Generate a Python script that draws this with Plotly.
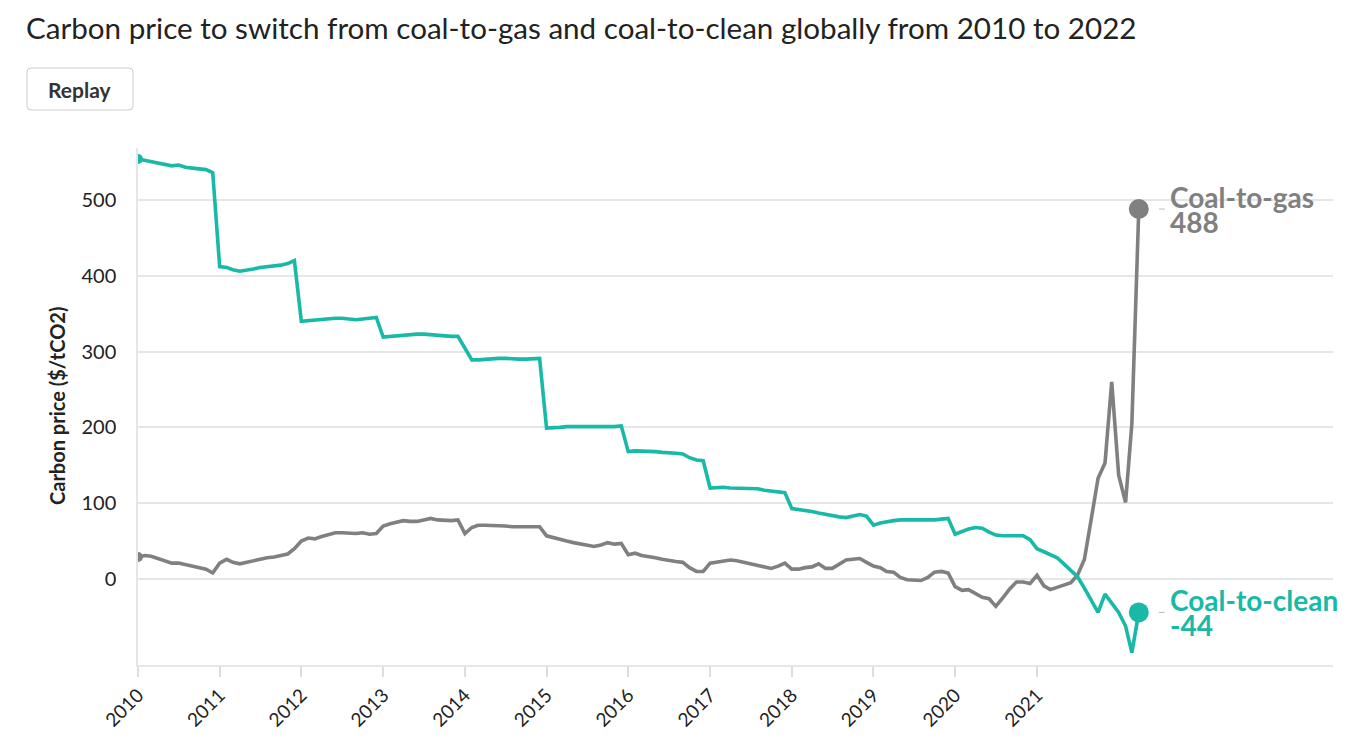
import pandas as pd
import plotly.graph_objects as go

# ---------------- data ----------------
months = pd.date_range("2010-01-01", "2022-04-01", freq="MS")

coal_to_clean = [
    554, 552, 551, 549, 546, 545, 546, 543, 542, 541, 540, 536,   # 2010
    412, 411, 408, 406, 407, 409, 411, 412, 412, 414, 416, 420,   # 2011
    340, 341, 341, 342, 343, 344, 344, 343, 342, 343, 344, 345,   # 2012
    319, 320, 321, 322, 323, 323, 323, 322, 321, 321, 320, 320,   # 2013
    305, 289, 289, 290, 290, 291, 291, 290, 290, 290, 290, 291,   # 2014
    199, 199, 200, 201, 201, 200, 200, 200, 201, 201, 201, 202,   # 2015
    168, 169, 169, 168, 168, 167, 167, 166, 165, 160, 157, 156,   # 2016
    120, 121, 121, 120, 120, 119, 119, 119, 117, 116, 115, 114,   # 2017
    93, 92, 91, 89, 87, 85, 84, 82, 81, 83, 85, 83,               # 2018
    71, 74, 76, 77, 78, 78, 77, 77, 77, 78, 79, 80,               # 2019
    59, 63, 66, 68, 67, 62, 58, 57, 57, 57, 57, 52,               # 2020
    40, 36, 32, 28, 20, 12, 3, -12, -29, -44, -20, -31,           # 2021
    -44, -62, -97, -44,                                           # 2022
]

coal_to_gas = [
    29, 31, 30, 27, 23, 21, 21, 19, 17, 15, 13, 8,                # 2010
    21, 26, 22, 20, 22, 24, 26, 28, 29, 31, 33, 40,               # 2011
    50, 54, 53, 56, 59, 61, 61, 60, 60, 61, 59, 60,               # 2012
    70, 73, 75, 77, 76, 76, 78, 80, 78, 77, 77, 78,               # 2013
    60, 68, 71, 71, 71, 71, 70, 69, 69, 68, 68, 69,               # 2014
    57, 55, 52, 50, 48, 46, 44, 43, 45, 48, 46, 47,               # 2015
    32, 34, 31, 30, 28, 26, 24, 23, 22, 15, 10, 10,               # 2016
    21, 22, 24, 25, 24, 22, 20, 18, 16, 14, 17, 21,               # 2017
    13, 13, 15, 16, 20, 14, 14, 19, 25, 26, 27, 22,               # 2018
    17, 15, 10, 9, 2, -1, -2, -2, 2, 9, 10, 8,                    # 2019
    -10, -15, -14, -19, -24, -26, -36, -25, -13, -4, -4, -6,      # 2020
    5, -9, -14, -11, -8, -5, 5, 26, 80, 133, 153, 260,            # 2021
    137, 101, 205, 488,                                           # 2022
]

series_names = ["Coal-to-gas", "Coal-to-clean"]
y_ticks = [0, 100, 200, 300, 400, 500]
x_ticks = [f"{y}-01-01" for y in range(2010, 2022)]
x_tick_labels = [str(y) for y in range(2010, 2022)]

title_text = "Carbon price to switch from coal-to-gas and coal-to-clean globally from 2010 to 2022"
y_title = "Carbon price ($/tCO2)"

# ---------------- styling ----------------
OFF = 8                      # page body margin
W, H = 1360 - 2 * OFF, 753 - 2 * OFF
L, R, T, B = 138 - OFF, 27 - OFF, 148 - OFF, 88 - OFF
GREY = "#808080"
TEAL = "#19b9a7"
GRID = "#e6e6e6"
FONT = "Lato"

def px_x(p):
    return (p - OFF - L) / (W - L - R)

def px_y(p):
    return (H - B - (p - OFF)) / (H - T - B)

fig = go.Figure()

for name, vals, col in [(series_names[0], coal_to_gas, GREY), (series_names[1], coal_to_clean, TEAL)]:
    fig.add_trace(go.Scatter(
        x=months, y=vals, mode="lines", name=name,
        line=dict(color=col, width=3.6), hoverinfo="skip", showlegend=False,
    ))
    # start blob (clipped by axis)
    fig.add_trace(go.Scatter(
        x=[months[0]], y=[vals[0]], mode="markers",
        marker=dict(color=col, size=10), showlegend=False, hoverinfo="skip",
    ))
    # end dot
    fig.add_trace(go.Scatter(
        x=[months[-1]], y=[vals[-1]], mode="markers",
        marker=dict(color=col, size=20), showlegend=False, hoverinfo="skip",
        cliponaxis=False,
    ))
    # end labels
    fig.add_annotation(x=months[-1], y=vals[-1], xref="x", yref="y",
                       text=f"<b>{name}</b>", showarrow=False, xanchor="left",
                       yanchor="middle", xshift=29, yshift=12,
                       font=dict(family=FONT, size=28, color=col))
    fig.add_annotation(x=months[-1], y=vals[-1], xref="x", yref="y",
                       text=f"<b>{vals[-1]}</b>", showarrow=False, xanchor="left",
                       yanchor="middle", xshift=29, yshift=-13,
                       font=dict(family=FONT, size=28, color=col))
    fig.add_shape(type="line", xref="x", yref="y", xsizemode="pixel", ysizemode="pixel",
                  xanchor=months[-1], yanchor=vals[-1], x0=20, x1=26, y0=0, y1=0,
                  line=dict(color="#bbbbbb", width=1))

# title
fig.add_annotation(xref="paper", yref="paper", x=px_x(24), y=px_y(27), text=title_text,
                   showarrow=False, xanchor="left", yanchor="middle",
                   font=dict(family=FONT, size=29.6, color="#222222"))

# Replay button (rounded rect)
bx0, bx1, by0, by1, rr = 27, 133, 68, 110, 4
def P(x, y):
    return f"{px_x(x)},{px_y(y)}"
path = (f"M {P(bx0+rr, by0)} L {P(bx1-rr, by0)} Q {P(bx1, by0)} {P(bx1, by0+rr)} "
        f"L {P(bx1, by1-rr)} Q {P(bx1, by1)} {P(bx1-rr, by1)} "
        f"L {P(bx0+rr, by1)} Q {P(bx0, by1)} {P(bx0, by1-rr)} "
        f"L {P(bx0, by0+rr)} Q {P(bx0, by0)} {P(bx0+rr, by0)} Z")
fig.add_shape(type="path", xref="paper", yref="paper", path=path,
              fillcolor="white", line=dict(color="#cccccc", width=1))
fig.add_annotation(xref="paper", yref="paper", x=px_x(80), y=px_y(89), text="<b>Replay</b>",
                   showarrow=False, xanchor="center", yanchor="middle",
                   font=dict(family=FONT, size=21, color="#333333"))

# y-axis title
fig.add_annotation(xref="paper", yref="paper", x=px_x(57), y=px_y(406), text=f"<b>{y_title}</b>",
                   showarrow=False, textangle=-90, xanchor="center", yanchor="middle",
                   font=dict(family=FONT, size=20, color="#222222"))

fig.update_layout(
    width=W, height=H,
    margin=dict(l=L, r=R, t=T, b=B, pad=0),
    paper_bgcolor="white", plot_bgcolor="white",
    font=dict(family=FONT, color="#333333"),
    xaxis=dict(
        type="date", range=["2010-01-01", "2024-08-16"],
        tickvals=x_ticks, ticktext=x_tick_labels, tickangle=-45,
        tickfont=dict(family=FONT, size=19, color="#222222"),
        showgrid=False, zeroline=False,
        showline=True, linecolor=GRID, linewidth=1.5,
        ticks="outside", ticklen=10, tickcolor="#dddddd", tickwidth=1.5,
    ),
    yaxis=dict(
        range=[-113.4, 568.5], tickvals=y_ticks,
        tickfont=dict(family=FONT, size=20, color="#222222"),
        showgrid=True, gridcolor=GRID, gridwidth=1.5,
        zeroline=False, showline=True, linecolor=GRID, linewidth=1.5,
        ticks="", ticklabelstandoff=16,
    ),
)

fig.write_html("out.html")
